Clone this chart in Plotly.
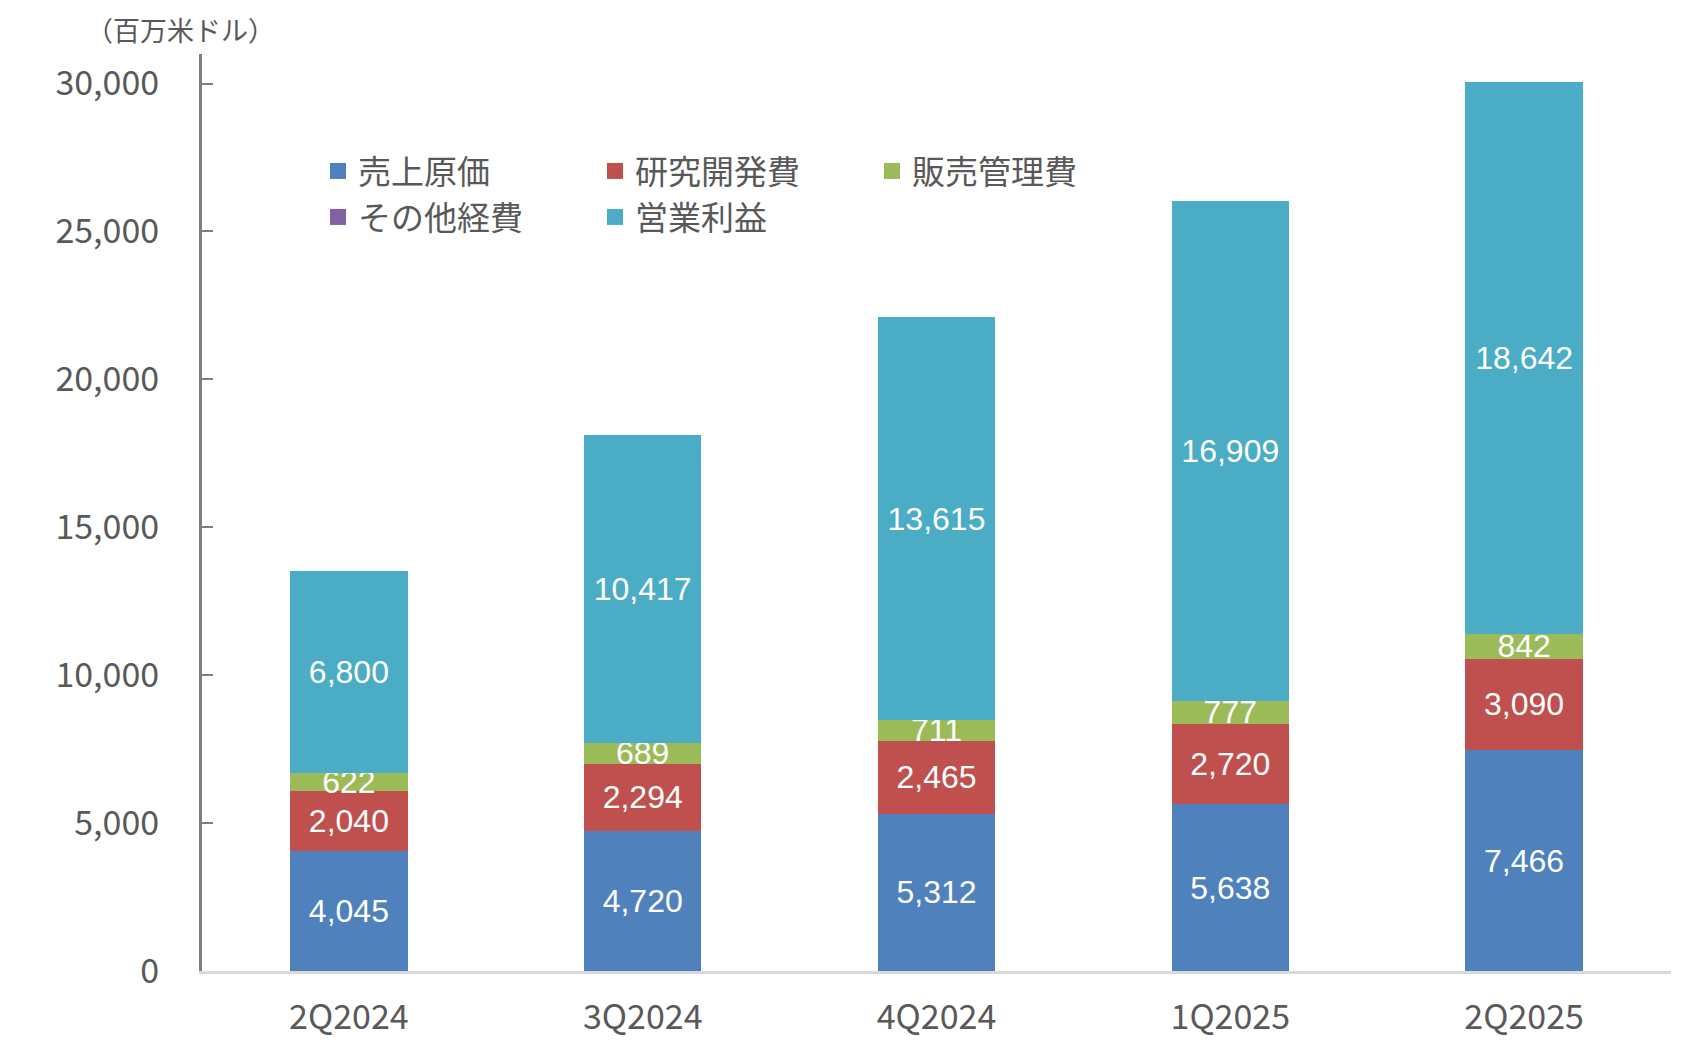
import plotly.graph_objects as go

categories = ["2Q2024", "3Q2024", "4Q2024", "1Q2025", "2Q2025"]
cogs = [4045, 4720, 5312, 5638, 7466]
rnd = [2040, 2294, 2465, 2720, 3090]
sga = [622, 689, 711, 777, 842]
other = [0, 0, 0, 0, 0]
op_income = [6800, 10417, 13615, 16909, 18642]

series_names = ["売上原価", "研究開発費", "販売管理費", "その他経費", "営業利益"]
series_values = [cogs, rnd, sga, other, op_income]
colors = ["#4F81BD", "#C0504D", "#9BBB59", "#8064A2", "#4BACC6"]
show_text = [True, True, True, False, True]
legend_ids = ["legend", "legend", "legend", "legend2", "legend2"]

y_ticks = [0, 5000, 10000, 15000, 20000, 25000, 30000]
y_ticklabels = ["0", "5,000", "10,000", "15,000", "20,000", "25,000", "30,000"]
unit_label = "（百万米ドル）"

FONT = "Noto Sans CJK JP"
NUM_FONT = "Liberation Sans, Noto Sans CJK JP"
GRAY = "#595959"

fig = go.Figure()
for name, vals, col, st in zip(series_names, series_values, colors, show_text):
    fig.add_trace(go.Bar(
        x=categories, y=vals, name=name, marker=dict(color=col, line=dict(width=0)),
        text=[f"{v:,}" for v in vals] if st else None,
        textposition="inside", insidetextanchor="middle", textangle=0,
        constraintext="none", cliponaxis=False,
        textfont=dict(family=NUM_FONT, size=32, color="white"),
        showlegend=False, hoverinfo="skip",
    ))

# legend entries
for name, col, lg in zip(series_names, colors, legend_ids):
    fig.add_trace(go.Scatter(
        x=[None], y=[None], mode="markers", name=name,
        marker=dict(symbol="square", size=21, color=col),
        legend=lg, showlegend=True,
    ))

legend_common = dict(
    orientation="h", xref="paper", yref="paper",
    xanchor="left", yanchor="middle", traceorder="normal",
    font=dict(family=FONT, size=33, color=GRAY),
    entrywidth=232, entrywidthmode="pixels",
    bgcolor="rgba(0,0,0,0)", borderwidth=0, itemwidth=30,
)

fig.update_layout(
    width=1700, height=1049,
    margin=dict(l=202, r=29, t=54, b=78, autoexpand=False),
    paper_bgcolor="white", plot_bgcolor="white",
    barmode="stack", bargap=0.6,
    font=dict(family=FONT, color=GRAY),
    legend=dict(x=(318 - 202) / 1469, y=(971 - 171) / 917, **legend_common),
    legend2=dict(x=(318 - 202) / 1469, y=(971 - 217) / 917, **legend_common),
    xaxis=dict(
        showline=True, linecolor="#D9D9D9", linewidth=3,
        ticks="", showgrid=False, zeroline=False,
        tickfont=dict(family=FONT, size=34, color=GRAY),
        ticklabelstandoff=14,
    ),
    yaxis=dict(
        range=[0, 31000], tickvals=y_ticks, ticktext=y_ticklabels,
        showline=True, linecolor="#808080", linewidth=3,
        ticks="inside", ticklen=11, tickwidth=2, tickcolor="#808080",
        showgrid=False, zeroline=False,
        tickfont=dict(family=FONT, size=34, color=GRAY),
        ticklabelstandoff=33,
    ),
    annotations=[dict(
        text=unit_label, xref="paper", yref="paper",
        x=(180 - 202) / 1469, y=(971 - 30) / 917, xanchor="center", yanchor="middle",
        showarrow=False,
        font=dict(family=FONT, size=27, color=GRAY),
    )],
)

fig.write_html("out.html")
